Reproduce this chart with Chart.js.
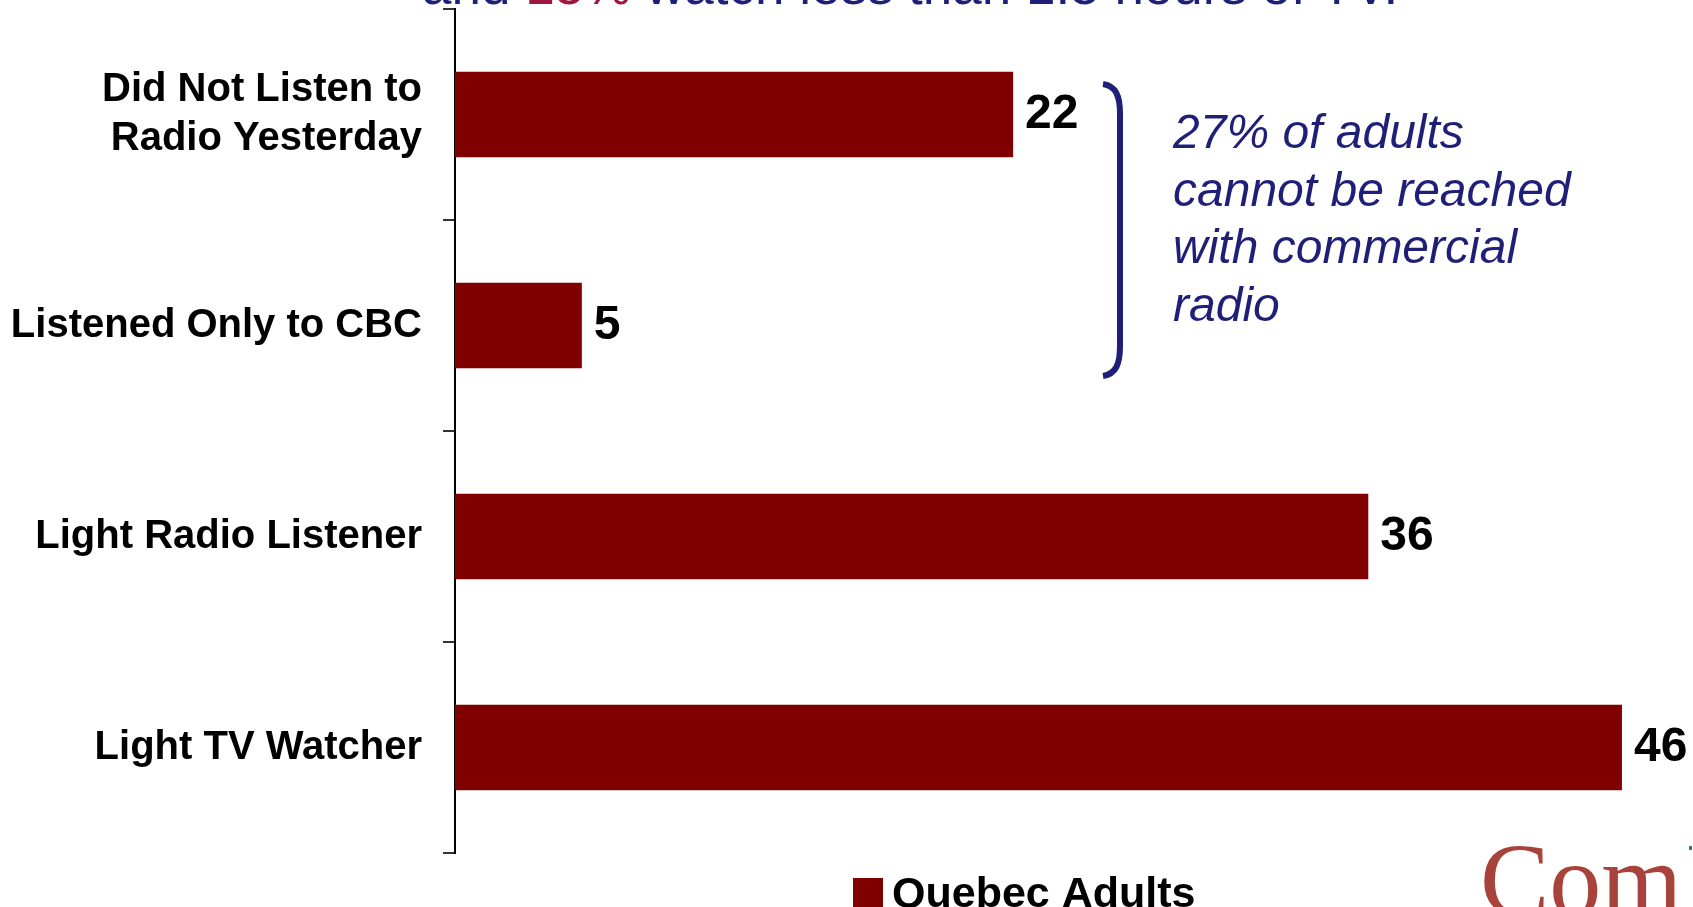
<!DOCTYPE html>
<html>
<head>
<meta charset="utf-8">
<script src="https://cdn.jsdelivr.net/npm/chart.js@4/dist/chart.umd.min.js"></script>
<style>
  html, body { margin: 0; padding: 0; background: #fff; overflow: hidden; }
  #wrap { position: relative; width: 1693px; height: 907px; }
</style>
</head>
<body>
<div id="wrap"><canvas id="chart"></canvas></div>
<script>
const categories = [['Did Not Listen to', 'Radio Yesterday'], 'Listened Only to CBC', 'Light Radio Listener', 'Light TV Watcher'];
const seriesName = 'Quebec Adults';
const quebecAdults = [22, 5, 36, 46];
const noteLines = ['27% of adults', 'cannot be reached', 'with commercial', 'radio'];

const NAVY = '#1f1f78';
const BAR = '#800000';

// value labels next to each bar
const valueLabels = {
  id: 'valueLabels',
  afterDatasetsDraw(chart) {
    const ctx = chart.ctx;
    const meta = chart.getDatasetMeta(0);
    ctx.save();
    ctx.font = 'bold 48px "Liberation Sans", Arial, sans-serif';
    ctx.fillStyle = '#000';
    ctx.textAlign = 'left';
    ctx.textBaseline = 'middle';
    meta.data.forEach((bar, i) => {
      ctx.fillText(String(chart.data.datasets[0].data[i]), bar.x + 12, bar.y);
    });
    ctx.restore();
  }
};

// cut title, bracket note, legend, logo fragment
const extras = {
  id: 'extras',
  afterDraw(chart) {
    const ctx = chart.ctx;
    ctx.save();

    // title (cropped at top of the picture)
    ctx.font = '53px "Liberation Sans", Arial, sans-serif';
    ctx.textBaseline = 'alphabetic';
    ctx.textAlign = 'left';
    let x = 422;
    const parts = [['and ', NAVY], ['15%', '#a0163c'], [' watch less than 1.5 hours of TV.', NAVY]];
    parts.forEach(([t, c]) => {
      ctx.fillStyle = c;
      ctx.fillText(t, x, 4);
      x += ctx.measureText(t).width;
    });

    // bracket
    ctx.strokeStyle = NAVY;
    ctx.lineWidth = 6;
    ctx.beginPath();
    ctx.moveTo(1103, 84);
    ctx.bezierCurveTo(1116, 86, 1120, 96, 1120, 114);
    ctx.lineTo(1120, 346);
    ctx.bezierCurveTo(1120, 364, 1116, 374, 1103, 376);
    ctx.stroke();

    // note
    ctx.font = 'italic 48px "Liberation Sans", Arial, sans-serif';
    ctx.fillStyle = NAVY;
    noteLines.forEach((l, i) => ctx.fillText(l, 1173, 148 + i * 57.7));

    // legend
    const ds = chart.data.datasets[0];
    ctx.fillStyle = ds.backgroundColor;
    ctx.fillRect(853, 878, 30, 30);
    ctx.fillStyle = '#000';
    ctx.font = 'bold 43px "Liberation Sans", Arial, sans-serif';
    ctx.fillText(ds.label, 892, 907);

    // logo fragment
    ctx.fillStyle = '#a8433c';
    ctx.font = '104px "Liberation Serif", "Times New Roman", serif';
    ctx.fillText('Com', 1480, 915);
    ctx.fillStyle = '#3a6bb0';
    ctx.fillRect(1689, 846, 3, 4);

    ctx.restore();
  }
};

new Chart(document.getElementById('chart'), {
  type: 'bar',
  data: {
    labels: categories,
    datasets: [{
      label: seriesName,
      data: quebecAdults,
      backgroundColor: BAR,
      borderWidth: 0,
      categoryPercentage: 1,
      barPercentage: 0.405
    }]
  },
  options: {
    indexAxis: 'y',
    responsive: true,
    maintainAspectRatio: false,
    animation: false,
    layout: { padding: { top: 9, bottom: 54, left: 0, right: 0 } },
    plugins: {
      legend: { display: false },
      tooltip: { enabled: false }
    },
    scales: {
      x: {
        display: false,
        min: 0,
        max: 48.8
      },
      y: {
        afterFit: s => { s.width = 455; s.paddingTop = 0; s.paddingBottom = 0; },
        grid: {
          display: true,
          drawOnChartArea: false,
          drawTicks: true,
          tickLength: 12,
          offset: true,
          color: '#333',
          lineWidth: 2
        },
        border: { display: true, color: '#000', width: 2 },
        ticks: {
          color: '#000',
          padding: 21,
          font: { family: '"Liberation Sans", Arial, sans-serif', size: 40, weight: 'bold', lineHeight: 1.24 }
        }
      }
    }
  },
  plugins: [valueLabels, extras]
});
</script>
</body>
</html>
